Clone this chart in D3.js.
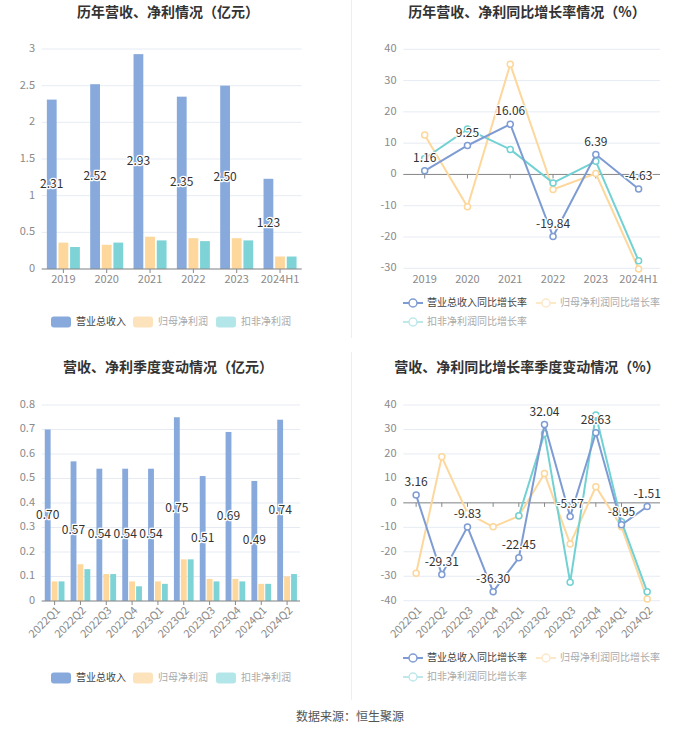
<!DOCTYPE html>
<html><head><meta charset="utf-8">
<script src="https://cdn.jsdelivr.net/npm/d3@7"></script>
<style>
body{margin:0;background:#fff;}
svg{display:block;font-family:"Noto Sans CJK SC","Noto Sans",sans-serif;}
</style></head>
<body><svg id="c" width="700" height="734"></svg>
<script>
// ---------- DATA ----------
const years = ["2019","2020","2021","2022","2023","2024H1"];
const yearRevenue = [2.31,2.52,2.93,2.35,2.50,1.23];
const yearNetProfit = [0.36,0.33,0.44,0.42,0.42,0.17];
const yearDeducted = [0.30,0.36,0.39,0.38,0.39,0.17];
const yearRevenueGrowth = [1.16,9.25,16.06,-19.84,6.39,-4.63];
const yearNetGrowth = [12.6,-10.3,35.2,-4.8,0.3,-30.2];
const yearDeductedGrowth = [5.1,14.5,8.0,-2.7,4.2,-27.6];

const quarters = ["2022Q1","2022Q2","2022Q3","2022Q4","2023Q1","2023Q2","2023Q3","2023Q4","2024Q1","2024Q2"];
const qRevenue = [0.70,0.57,0.54,0.54,0.54,0.75,0.51,0.69,0.49,0.74];
const qNetProfit = [0.08,0.15,0.11,0.08,0.08,0.17,0.09,0.09,0.07,0.10];
const qDeducted = [0.08,0.13,0.11,0.06,0.07,0.17,0.08,0.08,0.07,0.11];
const qRevenueGrowth = [3.16,-29.31,-9.83,-36.30,-22.45,32.04,-5.57,28.63,-8.95,-1.51];
const qNetGrowth = [-28.8,18.8,-4.3,-9.8,-5.4,12.0,-16.8,6.6,-9.8,-39.3];
const qDeductedGrowth = [null,null,null,null,-5.3,28.4,-32.5,35.9,-7.7,-36.3];

const yTicksYearBar = [0,0.5,1,1.5,2,2.5,3];
const yTicksYearLine = [-30,-20,-10,0,10,20,30,40];
const yTicksQBar = [0,0.1,0.2,0.3,0.4,0.5,0.6,0.7,0.8];
const yTicksQLine = [-40,-30,-20,-10,0,10,20,30,40];

const barNames = ["营业总收入","归母净利润","扣非净利润"];
const lineNames = ["营业总收入同比增长率","归母净利润同比增长率","扣非净利润同比增长率"];
const titles = ["历年营收、净利情况（亿元）","历年营收、净利同比增长率情况（%）","营收、净利季度变动情况（亿元）","营收、净利同比增长率季度变动情况（%）"];
const source = "数据来源：恒生聚源";

// ---------- STYLE ----------
const barColors = ["#88a9dc","#fdd79b","#7dd3d6"];
const lineColors = ["#7e9cd3","#fdd79b","#72d1d3"];
const legendBarColors = ["#88a9dc","#fde3bb","#b3e6e8"];
const legendLineColors = ["#7e9cd3","#fde8c8","#bfe8ea"];
const legendTextColors = ["#444","#aaa","#aaa"];

const svg = d3.select("#c");

// dividers
svg.append("line").attr("x1",351.5).attr("x2",351.5).attr("y1",0).attr("y2",338).attr("stroke","#eeeeee");
svg.append("line").attr("x1",351.5).attr("x2",351.5).attr("y1",352).attr("y2",700).attr("stroke","#eeeeee");

// titles
[[168,13],[527,13],[168,368],[527,368]].forEach((p,i)=>{
  svg.append("text").attr("x",p[0]).attr("y",p[1]).attr("text-anchor","middle").attr("dominant-baseline","middle")
    .attr("font-size",14).attr("font-weight","bold").attr("fill","#333").text(titles[i]);
});
svg.append("text").attr("x",350).attr("y",718).attr("text-anchor","middle").attr("dominant-baseline","middle")
  .attr("font-size",12).attr("fill","#555").text(source);

function grid(g, y, ticks, x0, x1, labelX){
  ticks.forEach(t=>{
    g.append("line").attr("x1",x0).attr("x2",x1).attr("y1",y(t)).attr("y2",y(t)).attr("stroke","#e6ebf3").attr("stroke-width",1);
    g.append("text").attr("x",labelX).attr("y",y(t)).attr("text-anchor","end").attr("dominant-baseline","middle")
      .attr("font-size",11).attr("fill","#8a8a8a").text(t);
  });
}

function catLabels(g, x, cats, yAxis, rotate, labelY){
  g.append("line").attr("x1",x.range()[0]).attr("x2",x.range()[1]).attr("y1",yAxis).attr("y2",yAxis).attr("stroke","#888").attr("stroke-width",1);
  cats.forEach(c=>{
    const cx = x(c)+x.bandwidth()/2;
    g.append("line").attr("x1",cx).attr("x2",cx).attr("y1",yAxis).attr("y2",yAxis+4).attr("stroke","#888");
    if(!rotate){
      g.append("text").attr("x",cx).attr("y",labelY).attr("text-anchor","middle").attr("dominant-baseline","middle")
        .attr("font-size",11).attr("fill","#8a8a8a").text(c);
    } else {
      g.append("text").attr("transform",`translate(${cx+4},${labelY}) rotate(-45)`).attr("text-anchor","end").attr("dominant-baseline","middle")
        .attr("font-size",11).attr("fill","#8a8a8a").text(c);
    }
  });
}

function label(g, x, y, txt){
  g.append("text").attr("x",x).attr("y",y).attr("text-anchor","middle").attr("dominant-baseline","middle")
    .attr("font-size",12).attr("fill","#333").attr("stroke","#fff").attr("stroke-width",2.5).attr("paint-order","stroke")
    .attr("stroke-linejoin","round").text(txt);
}

function barChart(cats, series, x0, x1, y0, y1, domain, ticks, rotate, labelY, legendY){
  const g = svg.append("g");
  const x = d3.scaleBand().domain(cats).range([x0,x1]);
  const y = d3.scaleLinear().domain(domain).range([y0,y1]);
  grid(g, y, ticks, x0, x1, 35);
  const bw = x.bandwidth()*0.226, gap = x.bandwidth()*0.042;
  series.forEach((s,si)=>{
    g.selectAll(null).data(s).enter().append("rect")
      .attr("x",(d,i)=>x(cats[i])+x.bandwidth()/2 - 1.5*bw - gap + si*(bw+gap))
      .attr("y",d=>y(d)).attr("width",bw).attr("height",d=>y(0)-y(d)).attr("fill",barColors[si]);
  });
  catLabels(g, x, cats, y(0), rotate, labelY);
  series[0].forEach((d,i)=>{
    const cx = x(cats[i])+x.bandwidth()/2 - bw - gap;
    label(g, cx, (y(d)+y(0))/2, d.toFixed(2));
  });
  const lx = [51,133,216];
  barNames.forEach((n,i)=>{
    g.append("rect").attr("x",lx[i]).attr("y",legendY-5.5).attr("width",20).attr("height",11).attr("rx",3).attr("fill",legendBarColors[i]);
    g.append("text").attr("x",lx[i]+25).attr("y",legendY).attr("dominant-baseline","middle").attr("font-size",10).attr("fill",legendTextColors[i]).text(n);
  });
}

function lineChart(cats, series, x0, x1, y0, y1, domain, ticks, rotate, labelY, legendY){
  const g = svg.append("g");
  const x = d3.scaleBand().domain(cats).range([x0,x1]);
  const y = d3.scaleLinear().domain(domain).range([y0,y1]);
  grid(g, y, ticks, x0, x1, 396.5);
  g.append("line").attr("x1",x0).attr("x2",x1).attr("y1",y(0)).attr("y2",y(0)).attr("stroke","#888");
  cats.forEach(c=>{
    const cx = x(c)+x.bandwidth()/2;
    g.append("line").attr("x1",cx).attr("x2",cx).attr("y1",y(0)).attr("y2",y(0)+4).attr("stroke","#888");
    if(!rotate){
      g.append("text").attr("x",cx).attr("y",labelY).attr("text-anchor","middle").attr("dominant-baseline","middle")
        .attr("font-size",11).attr("fill","#8a8a8a").text(c);
    } else {
      g.append("text").attr("transform",`translate(${cx+4},${labelY}) rotate(-45)`).attr("text-anchor","end").attr("dominant-baseline","middle")
        .attr("font-size",11).attr("fill","#8a8a8a").text(c);
    }
  });
  const cxs = cats.map(c=>x(c)+x.bandwidth()/2);
  [1,2,0].forEach(si=>{
    const s = series[si];
    const line = d3.line().defined(d=>d!==null).x((d,i)=>cxs[i]).y(d=>y(d));
    g.append("path").attr("d",line(s)).attr("fill","none").attr("stroke",lineColors[si]).attr("stroke-width",2);
    s.forEach((d,i)=>{
      if(d===null) return;
      g.append("circle").attr("cx",cxs[i]).attr("cy",y(d)).attr("r",3).attr("fill","#fff").attr("stroke",lineColors[si]).attr("stroke-width",1.5);
    });
  });
  series[0].forEach((d,i)=>label(g, cxs[i], y(d)-12, d.toFixed(2)));
  const pos = [[403,legendY],[536,legendY],[403,legendY+19]];
  lineNames.forEach((n,i)=>{
    const [lx,ly] = pos[i];
    g.append("line").attr("x1",lx).attr("x2",lx+20).attr("y1",ly).attr("y2",ly).attr("stroke",legendLineColors[i]).attr("stroke-width",2);
    g.append("circle").attr("cx",lx+10).attr("cy",ly).attr("r",4).attr("fill","#fff").attr("stroke",legendLineColors[i]).attr("stroke-width",1.5);
    g.append("text").attr("x",lx+24).attr("y",ly).attr("dominant-baseline","middle").attr("font-size",10).attr("fill",legendTextColors[i]).text(n);
  });
}

barChart(years,[yearRevenue,yearNetProfit,yearDeducted],41.7,301.7,269,49,[0,3],yTicksYearBar,false,280,322);
lineChart(years,[yearRevenueGrowth,yearNetGrowth,yearDeductedGrowth],403.3,660,268.3,49.3,[-30,40],yTicksYearLine,false,280,303);
barChart(quarters,[qRevenue,qNetProfit,qDeducted],41.7,300,601,405,[0,0.8],yTicksQBar,true,609,678);
lineChart(quarters,[qRevenueGrowth,qNetGrowth,qDeductedGrowth],403.3,660,600.7,405,[-40,40],yTicksQLine,true,609,658);
</script></body></html>
